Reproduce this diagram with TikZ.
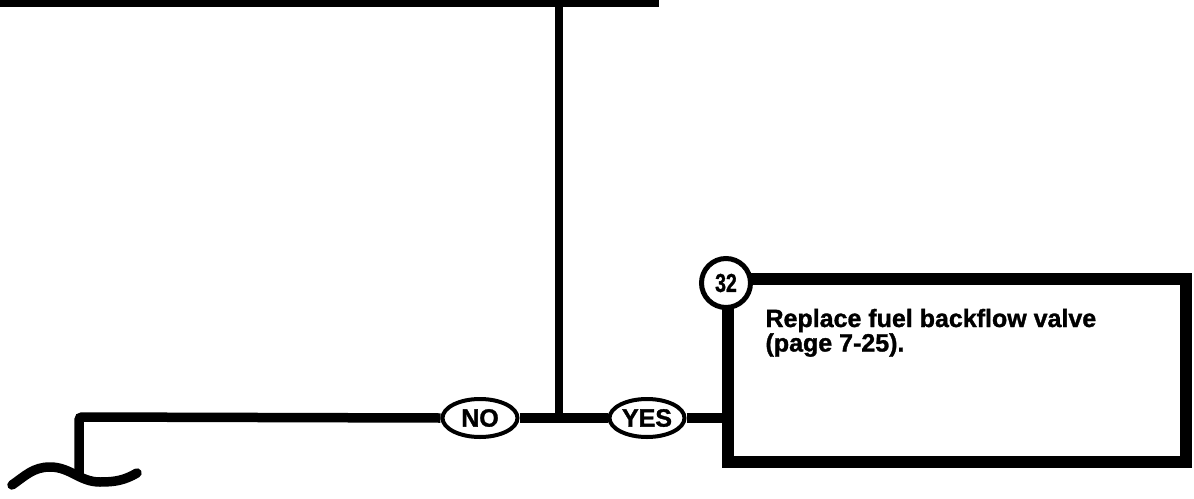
\documentclass[tikz,border=0pt]{standalone}
\usepackage{fontspec}
\setmainfont{Liberation Sans}
\newfontface\heavyface{Liberation Sans Bold}[FakeBold=1.3]
\usetikzlibrary{calc,positioning,shapes.geometric}

\tikzset{
  flowline/.style={line width=9.5pt},
  answer/.style={ellipse,draw,fill=white,line width=4pt,minimum width=75pt,minimum height=38pt,inner sep=0pt,font=\fontsize{25}{25}\selectfont\heavyface},
  stepbox/.style={rectangle,draw,line width=12pt,minimum width=458pt,minimum height=183pt,inner sep=0pt},
  stepnum/.style={circle,draw,fill=white,line width=5pt,minimum size=49pt,inner sep=0pt,font=\fontsize{26}{26}\selectfont\heavyface},
}

\begin{document}
\begin{tikzpicture}[x=1pt,y=1pt,font=\small]
\useasboundingbox (0,0) rectangle (1194,-498);
% ---- incoming branch from above ----
\coordinate (barL) at (0,-3.5);
\coordinate (barR) at (659,-3.5);
\coordinate (drop) at (559,-3.5);
\coordinate (jn) at (559,-417);
\draw[line width=7pt] (barL) -- (barR);
\draw[line width=8pt] (drop) -- (jn);
% ---- answers ----
\node[answer] (no) at (480,-418) {NO};
\node[answer] (yes) at (647,-418) {YES};
% ---- step 32 ----
\node[stepbox] (fix) at (957,-370.5) {};
\node[anchor=base west,align=left,font=\fontsize{25}{24.5}\selectfont\heavyface] (fixtext) at (762,-351.5) {Replace fuel backflow valve\\(page 7-25).};
\node[stepnum] (num) at (726,-283) {\scalebox{0.75}[1]{32}};
% ---- NO branch off to the left ----
\coordinate (turn) at (79,-417);
\coordinate (down) at (79,-476);
\draw[flowline,rounded corners=3pt] (down) -- (turn) -- (no.west);
\draw[flowline,line cap=round] (12,-485) to[out=35,in=180] (50,-467) to[out=0,in=180] (100,-482) to[out=0,in=210] (137,-473);
\draw[flowline] (no.east) -- (yes.west);
\draw[flowline] (yes.east) -- (yes.east -| fix.west);
\end{tikzpicture}
\end{document}
